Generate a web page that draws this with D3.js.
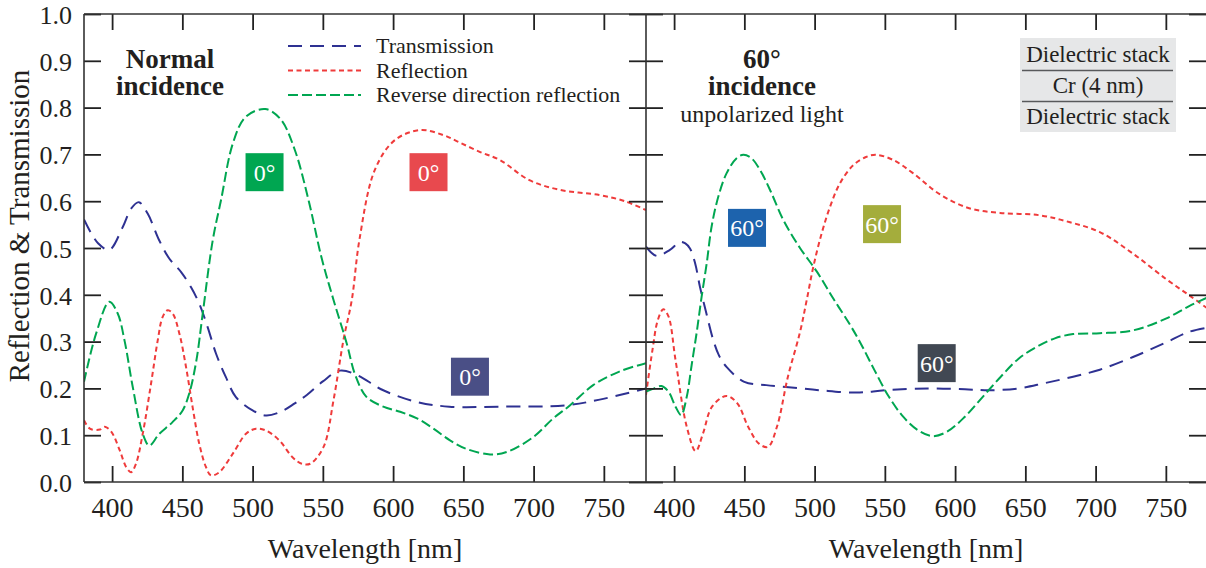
<!DOCTYPE html>
<html>
<head>
<meta charset="utf-8">
<script src="https://cdn.jsdelivr.net/npm/d3@7"></script>
<style>
  html, body { margin: 0; padding: 0; background: #fff; }
  svg { display: block; font-family: "Liberation Serif", serif; }
  text { font-family: "Liberation Serif", serif; fill: #231f20; }
</style>
</head>
<body>
<svg id="chart" width="1206" height="568"></svg>
<script>
// ---------------- data ----------------
const wavelengthTicks = [400, 450, 500, 550, 600, 650, 700, 750];
const valueTicks = [0, 0.1, 0.2, 0.3, 0.4, 0.5, 0.6, 0.7, 0.8, 0.9, 1.0];
const wavelengthDomain = [380, 780];
const valueDomain = [0, 1];

const seriesNames = ["Transmission", "Reflection", "Reverse direction reflection"];

// Normal incidence (0°)
const transmission0 = [[380,0.561],[390,0.51],[398,0.496],[407.6,0.545],[413.5,0.584],[419,0.598],[425.4,0.573],[433.6,0.516],[440.8,0.477],[449,0.449],[456.2,0.416],[462,0.381],[468,0.331],[474,0.274],[481,0.224],[488,0.182],[500,0.153],[509.5,0.142],[520,0.15],[530,0.168],[538.6,0.186],[550,0.215],[562,0.238],[574,0.229],[593,0.196],[617,0.171],[640,0.161],[676,0.161],[723.5,0.164],[747,0.176],[780,0.2]];
const reflection0 = [[380,0.132],[384.2,0.114],[391.3,0.112],[394.8,0.118],[399.5,0.107],[405.4,0.068],[410,0.032],[413.5,0.021],[417,0.039],[421.8,0.103],[427.7,0.21],[432.5,0.303],[436,0.353],[439.6,0.367],[443.1,0.36],[447.9,0.317],[452.6,0.246],[457.3,0.16],[462,0.082],[466.8,0.032],[470.4,0.014],[476.3,0.021],[485.8,0.06],[495.3,0.103],[502.4,0.114],[509.5,0.11],[519,0.089],[528.4,0.053],[535,0.039],[541,0.039],[550.5,0.075],[557.6,0.175],[564.7,0.304],[570.6,0.389],[576,0.517],[587,0.667],[601,0.73],[619,0.752],[635,0.742],[647.6,0.725],[662,0.705],[676,0.688],[697,0.645],[719,0.624],[747,0.613],[765,0.6],[780,0.581]];
const reverse0 = [[380,0.214],[388.6,0.317],[398,0.385],[404,0.36],[409,0.3],[414.7,0.203],[421.8,0.103],[426.5,0.078],[433.6,0.103],[443,0.128],[450.2,0.153],[455,0.19],[460,0.26],[464.5,0.36],[471.6,0.516],[477.5,0.602],[486,0.724],[495,0.78],[509,0.797],[520,0.775],[530,0.71],[540,0.6],[549,0.48],[557.6,0.389],[567,0.296],[573,0.229],[581,0.182],[593,0.161],[605,0.15],[617,0.136],[628.7,0.114],[640.5,0.089],[652,0.071],[669,0.059],[680.8,0.064],[699.8,0.096],[714,0.136],[726,0.164],[742.4,0.207],[761,0.236],[780,0.254]];

// 60° incidence, unpolarized
const transmission60 = [[380,0.503],[387.6,0.483],[397,0.496],[404.2,0.513],[408,0.51],[411.3,0.499],[415,0.467],[418.4,0.417],[423,0.36],[427.9,0.303],[432,0.27],[437.3,0.246],[450,0.214],[465.5,0.207],[483.5,0.202],[504,0.196],[529.8,0.191],[550.3,0.196],[581,0.2],[607,0.198],[625,0.196],[645.4,0.2],[663.4,0.211],[684,0.225],[703,0.24],[726.6,0.267],[750,0.298],[766.6,0.321],[780,0.33]];
const reflection60 = [[380,0.186],[384.6,0.282],[388.4,0.346],[392.3,0.369],[396,0.354],[401,0.261],[409,0.118],[415.4,0.066],[420.6,0.104],[427,0.161],[437.3,0.184],[445,0.168],[452.7,0.118],[460.4,0.082],[466.8,0.075],[473.2,0.118],[481,0.225],[489.6,0.32],[494.4,0.389],[499.1,0.46],[505,0.531],[511,0.588],[518,0.638],[527.5,0.677],[537,0.695],[544.2,0.699],[556,0.688],[570,0.66],[589,0.615],[610,0.585],[632,0.575],[660,0.57],[681.8,0.555],[703,0.534],[726.6,0.488],[750,0.434],[766.6,0.399],[780,0.37]];
const reverse60 = [[380,0.193],[385.9,0.2],[391,0.205],[396,0.193],[401,0.161],[405,0.143],[409,0.182],[412.5,0.25],[416,0.318],[419.6,0.396],[423.2,0.467],[426.7,0.546],[431.5,0.61],[437.4,0.66],[444.5,0.692],[449.3,0.699],[455,0.692],[461.1,0.667],[468.3,0.624],[477.7,0.56],[489.6,0.5],[501.5,0.45],[513.3,0.392],[525.2,0.336],[533,0.295],[542.6,0.239],[552.9,0.182],[563.2,0.139],[573.4,0.111],[583.7,0.098],[594,0.107],[606.8,0.139],[619.7,0.182],[632.5,0.225],[645.4,0.264],[658.2,0.289],[671,0.307],[684,0.316],[703,0.318],[726.6,0.324],[750,0.349],[766.6,0.376],[780,0.395]];

// angle badges: [wavelength, value at box centre, label]
const badges0 = [[508.5, 0.662, "0°"], [625.2, 0.662, "0°"], [654.7, 0.225, "0°"]];
const badges60 = [[451.9, 0.543, "60°"], [548, 0.551, "60°"], [586.9, 0.254, "60°"]];

// ---------------- drawing ----------------
const FONT = "'Liberation Serif', serif";
const svg = d3.select("#chart");
const plotTop = 14, plotBottom = 482;
const colors = { t: "#2e3192", r: "#ef3b3b", g: "#00a651" };
const dashes = { t: "14,8", r: "5,3.5", g: "10,4" };
const badgeColors0 = ["#00a651", "#e8494e", "#4a4f86"];
const badgeColors60 = ["#1d63ad", "#a4ad3c", "#414853"];

const y = d3.scaleLinear().domain(valueDomain).range([plotBottom, plotTop]);

function panel(x0, x1, data, badges, badgeColors, id, showYLabels) {
  const x = d3.scaleLinear().domain(wavelengthDomain).range([x0, x1]);
  const g = svg.append("g");
  g.append("clipPath").attr("id", id).append("rect")
    .attr("x", x0).attr("y", plotTop).attr("width", x1 - x0).attr("height", plotBottom - plotTop);

  const line = d3.line().x(d => x(d[0])).y(d => y(d[1])).curve(d3.curveCatmullRom.alpha(0.5));
  const lines = g.append("g").attr("clip-path", `url(#${id})`);
  [["t", data[0]], ["r", data[1]], ["g", data[2]]].forEach(([k, arr]) => {
    lines.append("path").datum(arr).attr("d", line)
      .attr("fill", "none").attr("stroke", colors[k]).attr("stroke-width", 2)
      .attr("stroke-dasharray", dashes[k]);
  });

  badges.forEach((b, i) => {
    const cx = x(b[0]), cy = y(b[1]);
    g.append("rect").attr("x", cx - 19).attr("y", cy - 19).attr("width", 38).attr("height", 38)
      .attr("fill", badgeColors[i]);
    g.append("text").attr("x", cx).attr("y", cy).attr("dy", "0.35em")
      .attr("text-anchor", "middle").attr("font-family", FONT).style("font-size", "24px").style("fill", "#fff").text(b[2]);
  });

  const axCol = "#333";
  const bottomAx = d3.axisBottom(x).tickValues(wavelengthTicks).tickSize(-16).tickPadding(15).tickFormat(d3.format("d"));
  const gb = g.append("g").attr("transform", `translate(0,${plotBottom})`).call(bottomAx)
    .attr("font-family", FONT).attr("font-size", 28);
  gb.selectAll("text").style("fill", "#231f20");
  const topAx = d3.axisTop(x).tickValues(wavelengthTicks).tickSize(-16).tickFormat("");
  g.append("g").attr("transform", `translate(0,${plotTop})`).call(topAx);
  const leftAx = d3.axisLeft(y).tickValues(valueTicks).tickSize(-17).tickPadding(12)
    .tickFormat(showYLabels ? d3.format(".1f") : "");
  const gl = g.append("g").attr("transform", `translate(${x0},0)`).call(leftAx)
    .attr("font-family", FONT).attr("font-size", 26);
  gl.selectAll("text").style("fill", "#231f20").attr("dy", "0.36em");
  const rightAx = d3.axisRight(y).tickValues(valueTicks).tickSize(-17).tickFormat("");
  g.append("g").attr("transform", `translate(${Math.min(x1, 1206)},0)`).call(rightAx);
  g.selectAll(".domain").remove();
  g.selectAll(".tick line").attr("stroke", "#222").attr("stroke-width", 1.8);

  g.append("line").attr("x1", x0).attr("x2", x1).attr("y1", plotTop).attr("y2", plotTop).attr("stroke", axCol).attr("stroke-width", 1.6);
  g.append("line").attr("x1", x0).attr("x2", x1).attr("y1", plotBottom).attr("y2", plotBottom).attr("stroke", axCol).attr("stroke-width", 1.6);
  g.append("line").attr("x1", x0).attr("x2", x0).attr("y1", plotTop).attr("y2", plotBottom).attr("stroke", axCol).attr("stroke-width", 1.6);

  g.append("text").attr("x", (x0 + Math.min(x1, 1206)) / 2).attr("y", 558).attr("text-anchor", "middle")
    .attr("font-family", FONT).style("font-size", "28px").text("Wavelength [nm]");
  return x;
}

const xL = panel(84, 646, [transmission0, reflection0, reverse0], badges0, badgeColors0, "clipL", true);
const xR = panel(646, 1208, [transmission60, reflection60, reverse60], badges60, badgeColors60, "clipR", false);

svg.append("text").attr("transform", `translate(29,226) rotate(-90)`)
  .attr("text-anchor", "middle").attr("font-family", FONT).style("font-size", "29px").text("Reflection & Transmission");

function titleBlock(cx, lines) {
  const t = svg.append("text").attr("text-anchor", "middle").attr("font-family", FONT);
  lines.forEach(([txt, yy, size, bold]) => {
    t.append("tspan").attr("x", cx).attr("y", yy).style("font-size", size + "px")
      .style("font-weight", bold ? "bold" : "normal").text(txt);
  });
}
titleBlock(170, [["Normal", 68, 27, true], ["incidence", 95, 27, true]]);
titleBlock(762, [["60°", 68, 27, true], ["incidence", 95, 27, true], ["unpolarized light", 122, 24, false]]);

const legend = svg.append("g");
const legendKeys = ["t", "r", "g"];
seriesNames.forEach((name, i) => {
  const ly = 46 + i * 24.5;
  legend.append("line").attr("x1", 288).attr("x2", 361).attr("y1", ly).attr("y2", ly)
    .attr("stroke", colors[legendKeys[i]]).attr("stroke-width", 2).attr("stroke-dasharray", dashes[legendKeys[i]]);
  legend.append("text").attr("x", 376).attr("y", ly + 7).attr("font-family", FONT).style("font-size", "22px").text(name);
});

const stack = svg.append("g");
stack.append("rect").attr("x", 1020).attr("y", 38).attr("width", 156).attr("height", 94).attr("fill", "#e6e7e8");
stack.append("line").attr("x1", 1022).attr("x2", 1173).attr("y1", 70.5).attr("y2", 70.5).attr("stroke", "#58595b").attr("stroke-width", 1.6);
stack.append("line").attr("x1", 1022).attr("x2", 1173).attr("y1", 101.5).attr("y2", 101.5).attr("stroke", "#58595b").attr("stroke-width", 1.6);
[["Dielectric stack", 62], ["Cr (4 nm)", 93], ["Dielectric stack", 124]].forEach(([t, yy]) => {
  stack.append("text").attr("x", 1098).attr("y", yy).attr("text-anchor", "middle").attr("font-family", FONT).style("font-size", "23px").text(t);
});
</script>
</body>
</html>
